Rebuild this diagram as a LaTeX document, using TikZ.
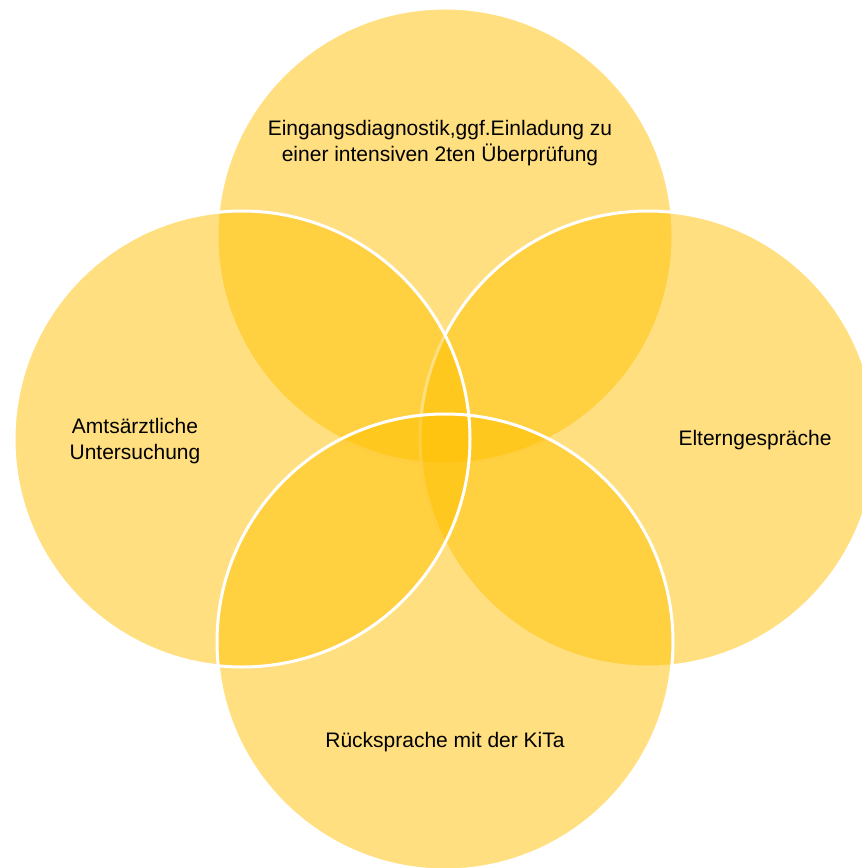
\documentclass[tikz,border=0pt]{standalone}
\usepackage{fontspec}
\setmainfont{Liberation Sans}
\usepackage{tikz}
\usetikzlibrary{positioning}
\definecolor{ringcolor}{RGB}{255, 192, 0}

\begin{document}
\begin{tikzpicture}[
    x=1pt, y=-1pt,
    disc/.style={circle, fill=ringcolor, fill opacity=0.5, minimum size=456pt, inner sep=0pt},
    rim/.style={circle, draw=white, line width=3pt, minimum size=456pt, inner sep=0pt},
    label/.style={font=\fontsize{21}{26}\selectfont, align=center, text=black}
]
    \useasboundingbox (0,0) rectangle (862,868);
    \clip (0,0) rectangle (862,868);

    % Upper and right circles
    \node[disc, rim] (upper) at (445, 236) {};
    \node[disc, rim] (right) at (648, 439) {};

    % Left and lower circles (fills first, rims on top)
    \node[disc] (left) at (242, 439) {};
    \node[disc] (lower) at (445, 642) {};
    \node[rim] (leftrim) at (left.center) {};
    \node[rim] (lowerrim) at (lower.center) {};

    % Labels
    \node[label] (diag) at (440, 143) {Eingangsdiagnostik,ggf.Einladung zu\\einer intensiven 2ten Überprüfung};
    \node[label] (amt) at (135, 441) {Amtsärztliche\\Untersuchung};
    \node[label] (eltern) at (755, 440) {Elterngespräche};
    \node[label] (kita) at (445, 742) {Rücksprache mit der KiTa};
\end{tikzpicture}
\end{document}
